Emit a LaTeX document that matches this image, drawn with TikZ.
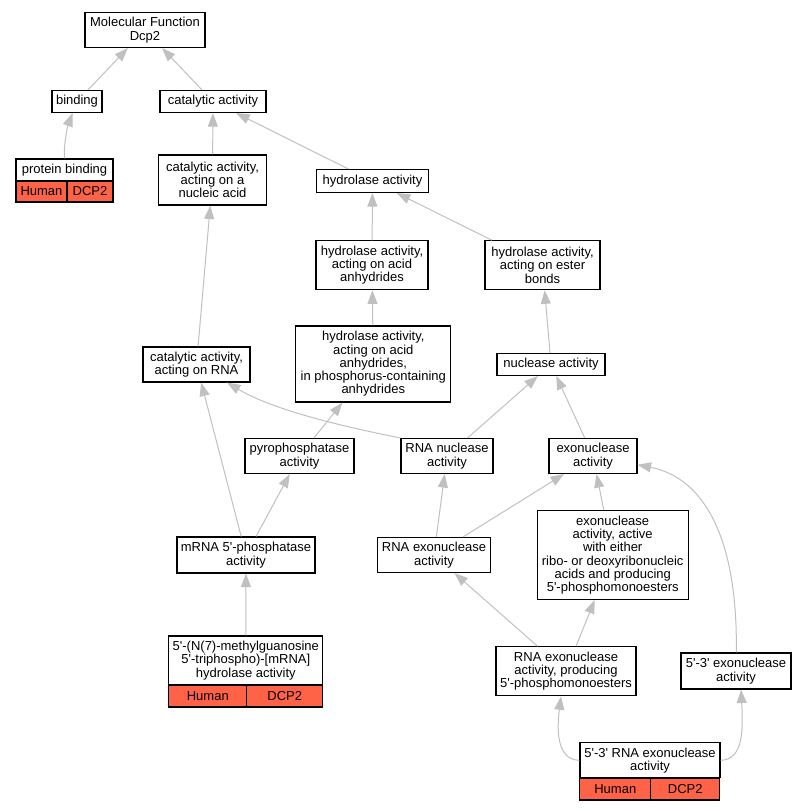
\documentclass[tikz,border=0pt]{standalone}
\usepackage{fontspec}
\setmainfont{Liberation Sans}
\usetikzlibrary{arrows.meta}
\definecolor{tomato}{HTML}{FF6347}
\definecolor{linkgray}{HTML}{C0C0C0}
\newcommand{\pr}{\textquotesingle}

\begin{document}
\begin{tikzpicture}[x=1pt,y=-1pt,
  term/.style={draw,line width=1.1pt,fill=white,align=center,inner sep=1pt,font=\fontsize{13}{13.3}\selectfont},
  cell/.style={term,fill=tomato},
  link/.style={draw=linkgray,line width=1pt,-{Triangle[length=13.5pt,width=10pt]}}]
\useasboundingbox (0,0) rectangle (807,811);

\node[term, minimum width=120, minimum height=35] (mf) at (145,30) {Molecular Function\\Dcp2};
\node[term, minimum width=50, minimum height=22] (bind) at (77,101.5) {binding};
\node[term, minimum width=106, minimum height=22] (cat) at (213,101.5) {catalytic activity};

\node[term, minimum width=97, minimum height=22] (pb) at (64.5,170) {protein binding};
\node[cell, minimum width=51, minimum height=21] (pbh) at (41.5,191.5) {Human};
\node[cell, minimum width=46, minimum height=21] (pbd) at (90,191.5) {DCP2};

\node[term, minimum width=108, minimum height=50] (catna) at (212.5,180) {catalytic activity,\\acting on a\\nucleic acid};
\node[term, minimum width=112, minimum height=23] (hyd) at (372.5,181) {hydrolase activity};
\node[term, minimum width=112, minimum height=49] (hydacid) at (372,265.3) {hydrolase activity,\\acting on acid\\anhydrides};
\node[term, minimum width=115, minimum height=49] (hydest) at (542.5,265.3) {hydrolase activity,\\acting on ester\\bonds};
\node[term, minimum width=155, minimum height=76] (phos) at (373.3,364) {hydrolase activity,\\acting on acid\\anhydrides,\\in phosphorus-containing\\anhydrides};
\node[term, minimum width=107, minimum height=35] (catrna) at (196.5,364.5) {catalytic activity,\\acting on RNA};
\node[term, minimum width=108, minimum height=22] (nuc) at (551,364.5) {nuclease activity};

\node[term, minimum width=109, minimum height=35] (pyro) at (299.5,456) {pyrophosphatase\\activity};
\node[term, minimum width=92, minimum height=35] (rnanuc) at (447,456) {RNA nuclease\\activity};
\node[term, minimum width=88, minimum height=35] (exo) at (593,456) {exonuclease\\activity};

\node[term, minimum width=138, minimum height=36] (mrna) at (246,555) {mRNA 5\pr-phosphatase\\activity};
\node[term, minimum width=113, minimum height=35] (rnaexo) at (434,555) {RNA exonuclease\\activity};
\node[term, minimum width=151, minimum height=89] (either) at (612.7,555) {exonuclease\\activity, active\\with either\\ribo- or deoxyribonucleic\\acids and producing\\5\pr-phosphomonoesters};

\node[term, minimum width=154, minimum height=49] (methyl) at (245.8,660.5) {5\pr-(N(7)-methylguanosine\\5\pr-triphospho)-[mRNA]\\hydrolase activity};
\node[cell, minimum width=78, minimum height=22] (methylh) at (207.8,696) {Human};
\node[cell, minimum width=76, minimum height=22] (methyld) at (284.7,696) {DCP2};

\node[term, minimum width=140, minimum height=49] (prod) at (566,671.3) {RNA exonuclease\\activity, producing\\5\pr-phosphomonoesters};
\node[term, minimum width=110, minimum height=36] (e53) at (736,671) {5\pr-3\pr{} exonuclease\\activity};

\node[term, minimum width=140, minimum height=35] (rna53) at (650,760.3) {5\pr-3\pr{} RNA exonuclease\\activity};
\node[cell, minimum width=71, minimum height=22] (rna53h) at (615.3,789) {Human};
\node[cell, minimum width=69, minimum height=22] (rna53d) at (685.3,789) {DCP2};

\draw[link] (bind) -- (mf);
\draw[link] (cat) -- (mf);
\draw[link] (pb) .. controls (64,140) and (68,125) .. (bind);
\draw[link] (catna) -- (cat);
\draw[link] (hyd) -- (cat);
\draw[link] (hydacid) -- (hyd);
\draw[link] (hydest) -- (hyd);
\draw[link] (phos) -- (hydacid);
\draw[link] (catrna) -- (catna);
\draw[link] (nuc) -- (hydest);
\draw[link] (pyro) -- (phos);
\draw[link] (rnanuc.north west) .. controls (330,424) and (270,408) .. (catrna);
\draw[link] (rnanuc) -- (nuc);
\draw[link] (exo) -- (nuc);
\draw[link] (mrna) -- (catrna);
\draw[link] (mrna) -- (pyro);
\draw[link] (rnaexo) -- (rnanuc);
\draw[link] (rnaexo) -- (exo);
\draw[link] (either) -- (exo);
\draw[link] (methyl) -- (mrna);
\draw[link] (prod) -- (rnaexo);
\draw[link] (prod) -- (either);
\draw[link] (e53) .. controls (738,540) and (705,478) .. (exo);
\draw[link] (rna53.west) .. controls (556,760) and (557,728) .. ([xshift=-5pt]prod.south);
\draw[link] (rna53.east) .. controls (744,760) and (743,728) .. ([xshift=5pt]e53.south);
\end{tikzpicture}
\end{document}
